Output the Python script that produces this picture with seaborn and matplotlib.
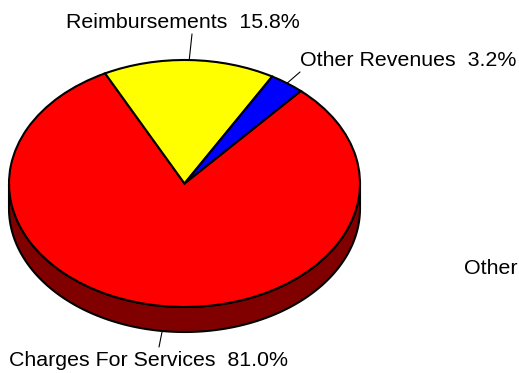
import numpy as np
import matplotlib
matplotlib.use("Agg")
import matplotlib.pyplot as plt
import matplotlib.colors as mcolors
import seaborn as sns

# Revenue breakdown
categories = ["Charges For Services", "Reimbursements", "Other Revenues"]
shares = [81.0, 15.8, 3.2]
colors = ["#ff0000", "#ffff00", "#0000ff"]

sns.set_theme(style="white")
plt.rcParams["font.family"] = ["Liberation Sans", "DejaVu Sans"]

W, H = 519, 373
fig = plt.figure(figsize=(W / 100, H / 100), dpi=100)
ax = fig.add_axes([0, 0, 1, 1])

# ellipse geometry (pixels): centre, half-width, half-height, rim depth
cx, cy, rx, ry, depth_px = 184.5, 183.5, 175.5, 123.5, 25
depth = depth_px / ry
start = 48.5
edge_lw = 1.5

def to_data(px, py):
    return (px - cx) / rx, (cy - py) / ry

# side rim of the tilted pie: wedge spans that face the viewer
bounds = start - np.cumsum([0] + [s * 3.6 for s in shares])
for i, col in enumerate(colors):
    a_hi, a_lo = bounds[i], bounds[i + 1]
    for k in range(-2, 2):
        lo = max(a_lo, 180 + 360 * k)
        hi = min(a_hi, 360 + 360 * k)
        if hi <= lo:
            continue
        t = np.radians(np.linspace(lo, hi, 200))
        xs = np.concatenate([np.cos(t), np.cos(t[::-1])])
        ys = np.concatenate([np.sin(t), np.sin(t[::-1]) - depth])
        dark = tuple(c * 0.5 for c in mcolors.to_rgb(col))
        ax.fill(xs, ys, facecolor=dark, edgecolor="black", linewidth=edge_lw, zorder=1)

wedges, _ = ax.pie(
    shares, colors=colors, startangle=start, counterclock=False,
    radius=1, center=(0, 0),
    wedgeprops=dict(edgecolor="black", linewidth=edge_lw),
)
for w in wedges:
    w.set_zorder(2)

ax.set_aspect("auto")
ax.set_xlim(to_data(0, 0)[0], to_data(W, 0)[0])
ax.set_ylim(to_data(0, H)[1], to_data(0, 0)[1])
ax.axis("off")

# labels with short leader lines
label_specs = {
    "Reimbursements": dict(end=(192, 34), text=(183, 22), ha="center", rim=False),
    "Other Revenues": dict(end=(300, 72), text=(300, 60), ha="left", rim=False),
    "Charges For Services": dict(end=(159, 347), text=(9, 360), ha="left", rim=True),
}
for i, name in enumerate(categories):
    spec = label_specs[name]
    mid = np.radians((bounds[i] + bounds[i + 1]) / 2)
    x0, y0 = np.cos(mid), np.sin(mid)
    if spec["rim"]:
        y0 -= depth
    x1, y1 = to_data(*spec["end"])
    ax.plot([x0, x1], [y0, y1], color="black", linewidth=0.8, zorder=3)
    tx, ty = to_data(*spec["text"])
    ax.text(tx, ty, f"{name}  {shares[i]:.1f}%", ha=spec["ha"], va="center",
            fontsize=15.4, color="black", zorder=4)

ox, oy = to_data(464, 269)
ax.text(ox, oy, "Other", ha="left", va="center", fontsize=15.4, color="black")

fig.savefig("out.png", dpi=100, facecolor="white")
